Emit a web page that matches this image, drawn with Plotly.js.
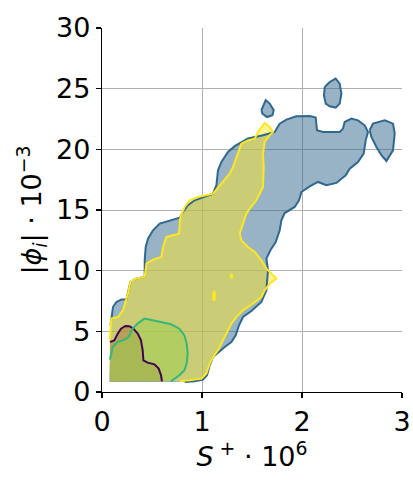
<!DOCTYPE html>
<html><head><meta charset="utf-8">
<script src="https://cdn.plot.ly/plotly-3.0.1.min.js"></script>
<style>html,body{margin:0;padding:0;background:#fff}#chart{width:413px;height:480px}</style>
</head><body><div id="chart"></div>
<script>
// Contour outlines (x = S+ * 1e6, y = |phi_i| * 1e-3)
const blueX = [0.085,0.094,0.11,0.144,0.194,0.244,0.26,0.284,0.344,0.427,0.427,0.437,0.46,0.51,0.577,0.66,0.777,0.81,0.86,0.927,1.01,1.11,1.144,1.16,1.194,1.26,1.327,1.41,1.46,1.61,1.727,1.777,1.844,1.944,2.077,2.137,2.15,2.21,2.377,2.41,2.427,2.494,2.56,2.627,2.66,2.637,2.617,2.56,2.477,2.437,2.344,2.244,2.16,2.077,1.994,1.97,1.927,1.827,1.794,1.777,1.737,1.684,1.644,1.66,1.644,1.594,1.494,1.41,1.37,1.337,1.294,1.227,1.15,1.11,1.077,1.05,1.01,0.927,0.827];
const blueY = [5.5,6.18,7.0,7.42,7.62,7.62,8.11,9.07,9.35,9.48,10.85,11.95,12.64,13.33,13.88,14.1,14.37,14.84,15.39,15.8,16.07,16.35,17.04,18.27,18.96,19.79,20.26,20.69,20.89,21.16,21.43,22.12,22.45,22.72,22.75,22.62,21.57,21.43,21.43,21.71,22.25,22.53,22.39,21.98,21.43,20.74,19.65,18.96,18.41,17.86,17.23,17.04,17.31,16.95,16.48,15.8,15.25,14.75,14.15,13.33,12.36,11.68,10.99,10.03,8.38,7.42,6.68,6.18,5.5,4.67,4.12,3.71,3.21,2.88,2.2,1.38,1.02,0.88,0.82];
const blueLobeX = [2.677,2.71,2.827,2.91,2.927,2.91,2.844,2.794,2.744,2.694];
const blueLobeY = [21.57,22.12,22.39,22.12,21.3,19.92,19.04,19.51,20.19,21.02];
const blueIsleAX = [1.594,1.637,1.677,1.717,1.704,1.65,1.604];
const blueIsleAY = [23.22,24.05,23.77,23.22,22.81,22.66,22.94];
const blueIsleBX = [2.227,2.277,2.337,2.377,2.394,2.377,2.337,2.277,2.237,2.22];
const blueIsleBY = [25.14,25.55,25.83,25.42,24.59,23.77,23.44,23.55,23.77,24.45];

const yellowX = [0.077,0.094,0.16,0.21,0.26,0.284,0.344,0.427,0.444,0.51,0.594,0.61,0.644,0.77,0.784,0.827,0.877,0.96,1.11,1.194,1.277,1.31,1.344,1.394,1.46,1.527,1.57,1.627,1.677,1.71,1.677,1.627,1.61,1.617,1.61,1.544,1.477,1.444,1.41,1.377,1.394,1.46,1.527,1.594,1.644,1.71,1.744,1.677,1.627,1.594,1.51,1.41,1.344,1.294,1.26,1.21,1.16,1.11,1.077,1.044,0.994,0.877,0.777];
const yellowY = [4.26,6.05,6.18,6.73,8.11,9.07,9.35,9.48,10.58,10.91,11.13,11.95,12.78,13.05,14.42,15.25,15.8,16.07,16.35,17.18,18.0,18.54,19.37,20.47,20.74,20.88,21.57,22.17,21.84,21.43,21.16,20.61,19.65,18.54,16.9,15.8,15.11,14.7,13.88,13.05,12.5,11.95,11.54,10.85,10.17,9.62,9.35,8.93,8.38,7.83,7.29,6.73,6.18,5.64,5.09,4.26,3.44,2.88,2.34,1.52,1.1,0.96,0.91];
const yellowDotX = [1.285,1.3,1.305,1.29];
const yellowDotY = [9.42,9.42,9.6,9.66];
const yellowIsleX = [1.115,1.125,1.13,1.125,1.115,1.11];
const yellowIsleY = [7.55,7.6,7.9,8.25,8.2,7.9];

const greenX = [0.08,0.107,0.157,0.224,0.267,0.307,0.357,0.424,0.507,0.59,0.69,0.774,0.824,0.847,0.857,0.847,0.824,0.774,0.724,0.69];
const greenY = [2.67,3.71,4.12,4.32,4.53,5.22,5.64,6.05,5.91,5.77,5.58,5.22,4.67,3.99,3.16,2.34,1.79,1.38,1.1,0.88];

const purpleX = [0.08,0.124,0.157,0.19,0.234,0.274,0.314,0.357,0.39,0.407,0.414,0.457,0.524,0.567,0.59,0.6];
const purpleY = [4.12,4.26,4.81,5.22,5.44,5.42,5.22,4.81,4.26,3.44,2.61,2.42,2.28,1.93,1.38,0.88];

// lower-left corner where the filled regions are cut off
const clipX = 0.077, clipY = 0.85;

const xTicks = [0,1,2,3];
const yTicks = [0,5,10,15,20,25,30];

const C = {
  blue:'#31688e', purple:'#440154', green:'#35b779', yellow:'#fde725'
};
function rgba(hex,a){const n=parseInt(hex.slice(1),16);return `rgba(${n>>16},${(n>>8)&255},${n&255},${a})`;}

function fillTrace(xs,ys,col,clip){
  const x = xs.slice(), y = ys.slice();
  if(clip){x.push(clipX); y.push(clipY);}
  return {x, y, type:'scatter', mode:'lines', fill:'toself', fillcolor:rgba(col,0.5),
          line:{width:0,color:col}, hoverinfo:'skip', showlegend:false};
}
function lineTrace(xs,ys,col,closed){
  const x = xs.slice(), y = ys.slice();
  if(closed){x.push(xs[0]); y.push(ys[0]);}
  return {x, y, type:'scatter', mode:'lines', line:{width:2,color:col},
          hoverinfo:'skip', showlegend:false};
}

const traces = [
  fillTrace(blueX,blueY,C.blue,true),
  fillTrace(blueLobeX,blueLobeY,C.blue,false),
  fillTrace(blueIsleAX,blueIsleAY,C.blue,false),
  fillTrace(blueIsleBX,blueIsleBY,C.blue,false),
  fillTrace(purpleX,purpleY,C.purple,true),
  fillTrace(greenX,greenY,C.green,true),
  fillTrace(yellowX,yellowY,C.yellow,true),
  lineTrace(blueX,blueY,C.blue,false),
  lineTrace(blueLobeX,blueLobeY,C.blue,true),
  lineTrace(blueIsleAX,blueIsleAY,C.blue,true),
  lineTrace(blueIsleBX,blueIsleBY,C.blue,true),
  lineTrace(purpleX,purpleY,C.purple,false),
  lineTrace(greenX,greenY,C.green,false),
  lineTrace(yellowX,yellowY,C.yellow,false),
  lineTrace(yellowDotX,yellowDotY,C.yellow,true),
  lineTrace(yellowIsleX,yellowIsleY,C.yellow,true)
];

const axisCommon = {
  showgrid:true, gridcolor:'#b0b0b0', gridwidth:1,
  showline:true, linecolor:'#000', linewidth:1.2,
  ticks:'outside', ticklen:5, tickwidth:1.2, tickcolor:'#000',
  zeroline:false, tickfont:{size:27, color:'#000'}, mirror:false
};

const layout = {
  width:413, height:480,
  margin:{l:102, r:11, t:28, b:88, pad:0},
  paper_bgcolor:'#fff', plot_bgcolor:'#fff',
  font:{family:'DejaVu Sans', size:27, color:'#000'},
  showlegend:false,
  xaxis:Object.assign({}, axisCommon, {
    range:[0,3], tickvals:xTicks, ticktext:xTicks.map(String),
    title:{text:'<i>S</i><sup> +</sup> · 10<sup>6</sup>', font:{size:27}, standoff:0}
  }),
  yaxis:Object.assign({}, axisCommon, {
    range:[0,30], tickvals:yTicks, ticktext:yTicks.map(String),
    title:{text:'|<i>ϕ<sub>i</sub></i>| · 10<sup>−3</sup>', font:{size:27}, standoff:6}
  })
};

Plotly.newPlot('chart', traces, layout, {displayModeBar:false, staticPlot:true});
</script>
</body></html>
